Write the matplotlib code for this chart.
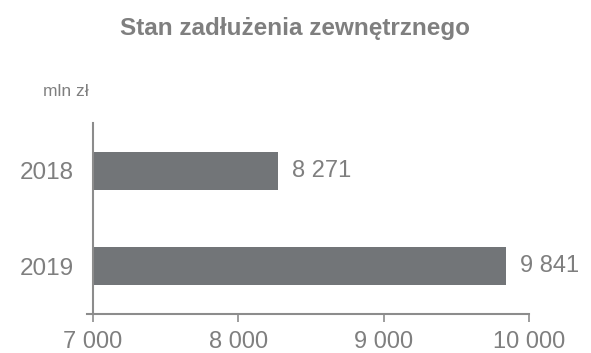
import matplotlib
matplotlib.use("Agg")
import matplotlib.pyplot as plt
from matplotlib.ticker import FuncFormatter

plt.rcParams['font.family'] = ['Liberation Sans', 'DejaVu Sans']

years = ['2018', '2019']
debt = [8271, 9841]
x_ticks = [7000, 8000, 9000, 10000]

bar_color = '#727578'
text_color = '#7f7f7f'
axis_color = '#8c8c8c'


def spaced(v, pos=None):
    return '{:,.0f}'.format(v).replace(',', ' ')


fig = plt.figure(figsize=(5.91, 3.53), dpi=100)
ax = fig.add_axes([0.1574, 0.1105, 0.7378, 0.5411])

ypos = range(len(years))
ax.barh(ypos, [d - x_ticks[0] for d in debt], left=x_ticks[0], height=0.4,
        color=bar_color)
for y, d in zip(ypos, debt):
    ax.text(d + 100, y, spaced(d), va='center', ha='left',
            fontsize=17, color=text_color)

ax.set_xlim(x_ticks[0], x_ticks[-1])
ax.set_ylim(1.5, -0.5)
ax.set_yticks(list(ypos))
ax.set_yticklabels(years)
ax.set_xticks(x_ticks)
ax.xaxis.set_major_formatter(FuncFormatter(spaced))

for s in ['top', 'right']:
    ax.spines[s].set_visible(False)
for s in ['left', 'bottom']:
    ax.spines[s].set_color(axis_color)
    ax.spines[s].set_linewidth(1.5)
ax.spines['bottom'].set_bounds(6960, 10000)
ax.tick_params(axis='x', direction='out', length=6, width=1.2,
               color=axis_color, labelcolor=text_color, labelsize=17, pad=6)
ax.tick_params(axis='y', length=0, labelcolor=text_color, labelsize=17.5, pad=14)

fig.text(0.5, 0.92, 'Stan zadłużenia zewnętrznego', ha='center', va='center',
         fontsize=17.5, fontweight='bold', color=text_color)
fig.text(0.073, 0.742, 'mln zł', ha='left', va='center',
         fontsize=12.5, color=text_color)

fig.savefig('out.png', dpi=100)
